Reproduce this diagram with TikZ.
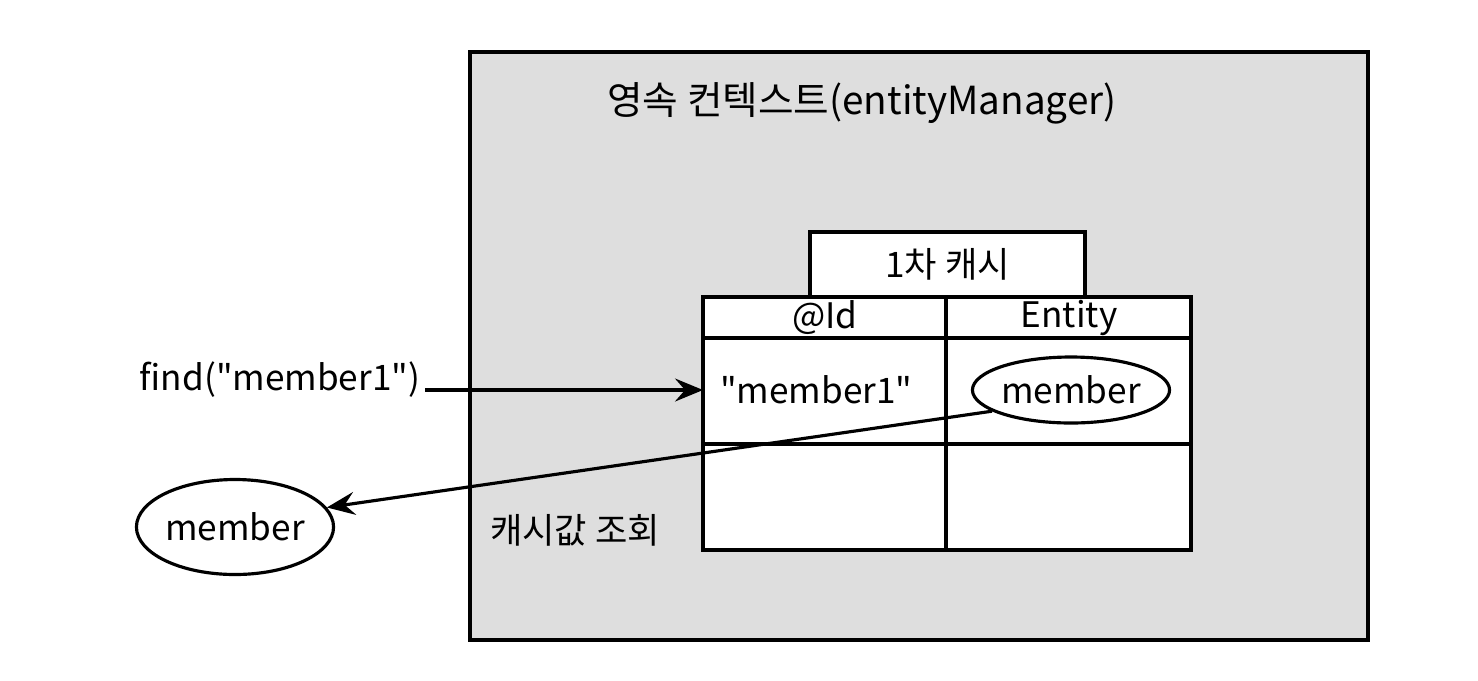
\documentclass[tikz,border=0pt]{standalone}
\usepackage{fontspec}
\setmainfont{Noto Sans CJK KR}[Ligatures=TeXOff]
\usetikzlibrary{positioning,arrows.meta,shapes.geometric}

\begin{document}
\begin{tikzpicture}[>={Stealth[length=2.8mm,width=2.3mm,inset=1mm]}]
  \tikzset{
    frame/.style={rectangle,draw=black,line width=1.2pt,fill=gray!26},
    cell/.style={rectangle,draw=black,line width=0.9pt,fill=white,inner sep=0pt},
    obj/.style={ellipse,draw=black,line width=0.9pt,fill=white,inner sep=0pt,font=\fontsize{10}{12}\selectfont},
    lbl/.style={font=\fontsize{10}{12}\selectfont,inner sep=1pt},
    arr/.style={->,line width=0.9pt,black}}
  \useasboundingbox (0,0) rectangle (14.78,6.80);
  % persistence context
  \node[frame,minimum width=8.98cm,minimum height=5.88cm] (ctx) at (9.19,3.34){};
  \node[lbl,font=\fontsize{11}{13}\selectfont] (ctxname) at (8.62,5.77){영속 컨텍스트(entityManager)};
  % first-level cache
  \node[cell,minimum width=2.75cm,minimum height=0.65cm] (tab) at (9.475,4.155){};
  \node[lbl] (tabname) at (9.475,4.155){1차 캐시};
  \node[cell,minimum width=4.88cm,minimum height=2.53cm] (cache) at (9.47,2.565){};
  \draw[line width=0.9pt](9.46,3.83)--(9.46,1.30);
  \draw[line width=0.9pt](7.03,3.42)--(11.91,3.42);
  \draw[line width=0.9pt](7.03,2.36)--(11.91,2.36);
  \node[lbl] (idhead) at (8.25,3.62){@Id};
  \node[lbl] (enthead) at (10.69,3.62){Entity};
  \node[lbl,anchor=west] (key) at (7.16,2.90){"member1"};
  \node[obj,minimum width=1.87cm,minimum height=0.66cm] (ent) at (10.71,2.90){member};
  \coordinate (keyin) at (7.03,2.90);
  % caller side
  \node[lbl] (findcall) at (2.80,3.00){find("member1")};
  \coordinate (findout) at (4.25,2.90);
  \node[obj,minimum width=1.90cm,minimum height=0.95cm] (back) at (2.35,1.53){member};
  \node[lbl] (lookup) at (5.75,1.50){캐시값 조회};
  \draw[arr](findout)--(keyin);
  \draw[arr](ent.195)--(back.12);
\end{tikzpicture}
\end{document}
